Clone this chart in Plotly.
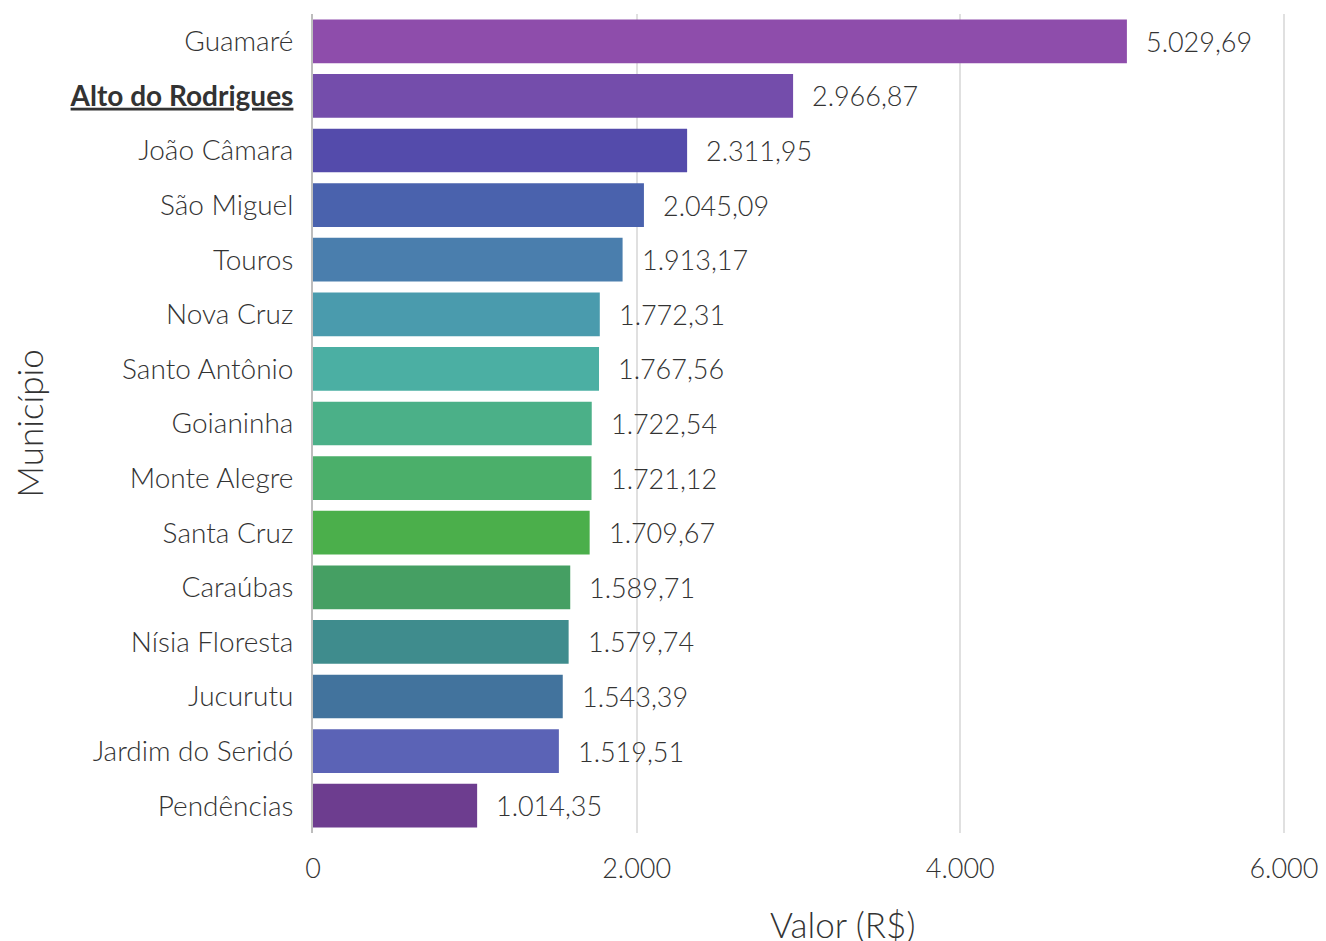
import plotly.graph_objects as go

municipios = ["Guamaré", "Alto do Rodrigues", "João Câmara", "São Miguel", "Touros",
              "Nova Cruz", "Santo Antônio", "Goianinha", "Monte Alegre", "Santa Cruz",
              "Caraúbas", "Nísia Floresta", "Jucurutu", "Jardim do Seridó", "Pendências"]
valores = [5029.69, 2966.87, 2311.95, 2045.09, 1913.17,
           1772.31, 1767.56, 1722.54, 1721.12, 1709.67,
           1589.71, 1579.74, 1543.39, 1519.51, 1014.35]
cores = ["#8E4DAB", "#744DAB", "#544BAB", "#4A62AD", "#4A7EAD",
         "#4A9BAD", "#4BAFA3", "#4BB088", "#4BAF6A", "#4BAF4B",
         "#459F63", "#3F8C8D", "#42739D", "#5B63B6", "#6D3D8F"]
destaque = "Alto do Rodrigues"
x_ticks = [0, 2000, 4000, 6000]
x_ticklabels = ["0", "2.000", "4.000", "6.000"]


def fmt_br(v):
    s = f"{v:,.2f}"
    return s.replace(",", "X").replace(".", ",").replace("X", ".")


ticktext = [f"<b><u>{m}</u></b>" if m == destaque else m for m in municipios]

FONT = "Lato"
TXT = "#333333"
fig = go.Figure()
fig.add_trace(go.Bar(
    x=valores, y=municipios, orientation="h",
    marker=dict(color=cores, line=dict(width=0)),
    width=0.8, showlegend=False, hoverinfo="skip",
))

for v, m in zip(valores, municipios):
    fig.add_annotation(x=v, y=m, xref="x", yref="y", text=fmt_br(v),
                       showarrow=False, xanchor="left", xshift=17,
                       font=dict(family=FONT, size=27, color=TXT, weight=300))

fig.add_annotation(x=0.541, y=0, xref="paper", yref="paper", yshift=-91,
                   text="Valor (R$)", showarrow=False, yanchor="middle",
                   font=dict(family=FONT, size=35, color=TXT, weight=300))

fig.update_layout(
    width=1318, height=933,
    margin=dict(l=305, r=34, t=6, b=108),
    plot_bgcolor="white", paper_bgcolor="white",
    bargap=0.2,
    font=dict(family=FONT, color=TXT, weight=300),
    xaxis=dict(range=[0, 6050], tickvals=x_ticks, ticktext=x_ticklabels,
               showgrid=True, gridcolor="#E0E0E0", gridwidth=2,
               zeroline=False, showline=False,
               tickfont=dict(family=FONT, size=27, color=TXT, weight=300),
               ticklabelstandoff=17, fixedrange=True),
    yaxis=dict(categoryorder="array", categoryarray=municipios,
               tickmode="array", tickvals=municipios, ticktext=ticktext,
               autorange="reversed",
               showline=True, linecolor="#BDBDBD", linewidth=2,
               showgrid=False, zeroline=False,
               tickfont=dict(family=FONT, size=28, color=TXT, weight=300),
               ticklabelstandoff=12,
               title=dict(text="Município", standoff=21,
                          font=dict(family=FONT, size=35, color=TXT, weight=300))),
)

fig.write_html("out.html")
